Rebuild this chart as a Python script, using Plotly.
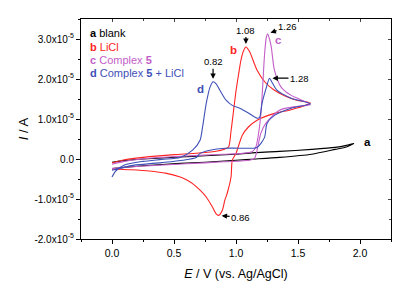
import plotly.graph_objects as go

# ---- data (V vs. Ag/AgCl, current in units of 1e-5 A) ----
a_V = [0.0, 0.1, 0.25, 0.55, 0.75, 1.0, 1.16, 1.35, 1.61, 1.8, 1.89, 1.95,
       1.89, 1.8, 1.61, 1.35, 1.16, 1.0, 0.75, 0.55, 0.25, 0.1, 0.0]
a_I = [-0.08, -0.04, 0.0, 0.05, 0.08, 0.12, 0.16, 0.19, 0.24, 0.29, 0.34, 0.39,
       0.3, 0.24, 0.12, 0.04, 0.0, -0.03, -0.08, -0.11, -0.17, -0.21, -0.24]

b_V = [0.0, 0.1, 0.3, 0.5, 0.7, 0.85, 0.9, 0.94, 0.96, 0.98, 1.0, 1.02, 1.04, 1.06, 1.08,
       1.11, 1.17, 1.24, 1.31, 1.4, 1.49, 1.6,
       1.5, 1.43, 1.31, 1.17, 1.1, 1.05, 1.0, 0.97, 0.96, 0.93, 0.91, 0.89, 0.86, 0.84,
       0.81, 0.76, 0.71, 0.66, 0.6, 0.55, 0.44, 0.3, 0.15, 0.0]
b_I = [-0.1, -0.02, 0.06, 0.11, 0.15, 0.2, 0.24, 0.3, 0.7, 1.2, 1.7, 2.1, 2.47, 2.7, 2.8,
       2.68, 2.22, 1.9, 1.72, 1.57, 1.47, 1.4,
       1.28, 1.22, 1.14, 0.97, 0.8, 0.59, 0.14, -0.03, -0.45, -0.85, -1.03, -1.28, -1.41, -1.37,
       -1.2, -0.95, -0.78, -0.64, -0.52, -0.45, -0.36, -0.3, -0.27, -0.25]

c_V = [0.0, 0.1, 0.3, 0.5, 0.7, 0.9, 1.05, 1.13, 1.16, 1.18, 1.2, 1.215, 1.23, 1.245, 1.255,
       1.27, 1.285, 1.31, 1.365, 1.445, 1.51, 1.6,
       1.5, 1.35, 1.24, 1.2, 1.17, 1.15, 1.11, 0.9, 0.6, 0.3, 0.1, 0.0]
c_I = [-0.13, -0.06, 0.02, 0.06, 0.09, 0.12, 0.14, 0.18, 0.3, 0.6, 1.1, 1.8, 2.6, 3.05, 3.13,
       3.0, 2.79, 2.22, 1.79, 1.59, 1.5, 1.36,
       1.32, 1.22, 0.89, 0.64, 0.22, 0.02, -0.03, -0.07, -0.12, -0.17, -0.21, -0.24]

d_V = [0.0, 0.03, 0.1, 0.25, 0.4, 0.55, 0.65, 0.71, 0.73, 0.76, 0.79, 0.815, 0.84, 0.87, 0.92,
       0.97, 1.03, 1.1, 1.17, 1.19, 1.21, 1.245, 1.27, 1.29, 1.33, 1.445, 1.6,
       1.445, 1.31, 1.25, 1.23, 1.17, 1.04, 0.91, 0.79, 0.71, 0.68, 0.57, 0.4, 0.17, 0.0]
d_I = [-0.45, -0.3, -0.15, -0.06, -0.01, 0.04, 0.22, 0.47, 0.79, 1.39, 1.79, 1.93, 1.88, 1.72, 1.47,
       1.34, 1.27, 1.15, 1.02, 1.04, 1.39, 1.79, 2.02, 1.92, 1.72, 1.52, 1.38,
       1.27, 1.09, 0.89, 0.54, 0.29, 0.27, 0.27, 0.22, 0.14, 0.04, -0.03, -0.09, -0.16, -0.28]

SCALE = 1e-5
y_tickvals = [-2, -1, 0, 1, 2, 3]
y_ticktext = ["-2.0x10<sup>-5</sup>", "-1.0x10<sup>-5</sup>", "0.0",
              "1.0x10<sup>-5</sup>", "2.0x10<sup>-5</sup>", "3.0x10<sup>-5</sup>"]
x_tickvals = [0.0, 0.5, 1.0, 1.5, 2.0]
x_ticktext = ["0.0", "0.5", "1.0", "1.5", "2.0"]

BLACK = "#000000"
RED = "#ff2424"
MAG = "#c35ec8"
BLUE = "#3e50b8"
FONT = "Liberation Sans, Arial, sans-serif"

fig = go.Figure()
for V, I, col in [(a_V, a_I, BLACK), (b_V, b_I, RED), (c_V, c_I, MAG), (d_V, d_I, BLUE)]:
    fig.add_trace(go.Scatter(x=V, y=[v * SCALE for v in I], mode="lines",
                             line=dict(color=col, width=1.1, shape="spline", smoothing=0.7),
                             showlegend=False, hoverinfo="skip"))
# dummy trace to render mirror axes (top/right with inside ticks)
fig.add_trace(go.Scatter(x=[None], y=[None], xaxis="x2", yaxis="y2", showlegend=False))

XR = [-0.25, 2.25]
YR = [-2.0e-5, 3.5e-5]

fig.update_layout(
    width=417, height=285,
    margin=dict(l=73, r=34, t=11, b=54, autoexpand=False),
    paper_bgcolor="white", plot_bgcolor="white",
    font=dict(family=FONT, size=10, color="black"),
    xaxis=dict(range=XR, showgrid=False, zeroline=False, showline=True, linecolor="black",
               linewidth=1, ticks="outside", ticklen=4, tickcolor="black", automargin=False,
               tickvals=x_tickvals, ticktext=x_ticktext, tickfont=dict(size=10.5),
               minor=dict(ticks="outside", ticklen=2, dtick=0.25, tick0=0, tickcolor="black"),
               title=dict(text="<i>E</i> / V (vs. Ag/AgCl)", font=dict(size=12.5), standoff=11)),
    yaxis=dict(range=YR, showgrid=False, zeroline=False, showline=True, linecolor="black",
               linewidth=1, ticks="outside", ticklen=4, tickcolor="black", automargin=False,
               tickvals=[v * SCALE for v in y_tickvals], ticktext=y_ticktext, tickfont=dict(size=10),
               minor=dict(ticks="outside", ticklen=2, dtick=0.5e-5, tick0=0, tickcolor="black"),
               title=dict(text="<i>I</i> / A", font=dict(size=13), standoff=2)),
    xaxis2=dict(range=XR, overlaying="x", side="top", anchor="y2", showgrid=False, zeroline=False,
                showline=True, linecolor="black", linewidth=1, ticks="inside", ticklen=3,
                tickvals=x_tickvals, showticklabels=False, automargin=False,
                minor=dict(ticks="inside", ticklen=2, dtick=0.25, tick0=0)),
    yaxis2=dict(range=YR, overlaying="y", side="right", anchor="x2", showgrid=False, zeroline=False,
                showline=True, linecolor="black", linewidth=1, ticks="inside", ticklen=3,
                tickvals=[v * SCALE for v in y_tickvals], showticklabels=False, automargin=False,
                minor=dict(ticks="inside", ticklen=2, dtick=0.5e-5, tick0=0)),
)

# legend-like text block
legend_rows = [
    ("<b>a</b> blank", BLACK, 3.14),
    ("<b>b</b> LiCl", RED, 2.81),
    ("<b>c</b> Complex <b>5</b>", MAG, 2.47),
    ("<b>d</b> Complex <b>5</b> + LiCl", BLUE, 2.14),
]
for txt, col, yy in legend_rows:
    fig.add_annotation(x=-0.195, y=yy * SCALE, text=txt, showarrow=False, xanchor="left",
                       yanchor="middle", font=dict(size=11, color=col, family=FONT))

# curve letters
for txt, col, xx, yy in [("a", BLACK, 2.06, 0.42), ("b", RED, 0.98, 2.72),
                         ("c", MAG, 1.34, 2.97), ("d", BLUE, 0.715, 1.74)]:
    fig.add_annotation(x=xx, y=yy * SCALE, text="<b>%s</b>" % txt, showarrow=False,
                       font=dict(size=11.5, color=col, family=FONT))

# peak labels with arrows (pointing at data peaks)
def peak(V, I, idx):
    return V[idx], I[idx] * SCALE

pk_d1 = peak(d_V, d_I, d_I.index(max(d_I[:15])))
pk_b = peak(b_V, b_I, b_I.index(max(b_I)))
pk_c = peak(c_V, c_I, c_I.index(max(c_I)))
pk_d2 = peak(d_V, d_I, d_I.index(max(d_I[18:27])))
pk_bmin = peak(b_V, b_I, b_I.index(min(b_I)))

for (x, y), txt, ax, ay in [(pk_d1, "0.82", 0, -20), (pk_b, "1.08", 0, -17),
                            (pk_c, "1.26", 20, -7), (pk_d2, "1.28", 30, 0),
                            (pk_bmin, "0.86", 22, 2)]:
    fig.add_annotation(x=x, y=y, text=txt, showarrow=True, ax=ax, ay=ay,
                       arrowhead=2, arrowsize=0.9, arrowwidth=1.2, arrowcolor="black",
                       standoff=3, font=dict(size=9.5, color="black", family=FONT))

fig.write_html("out.html")
